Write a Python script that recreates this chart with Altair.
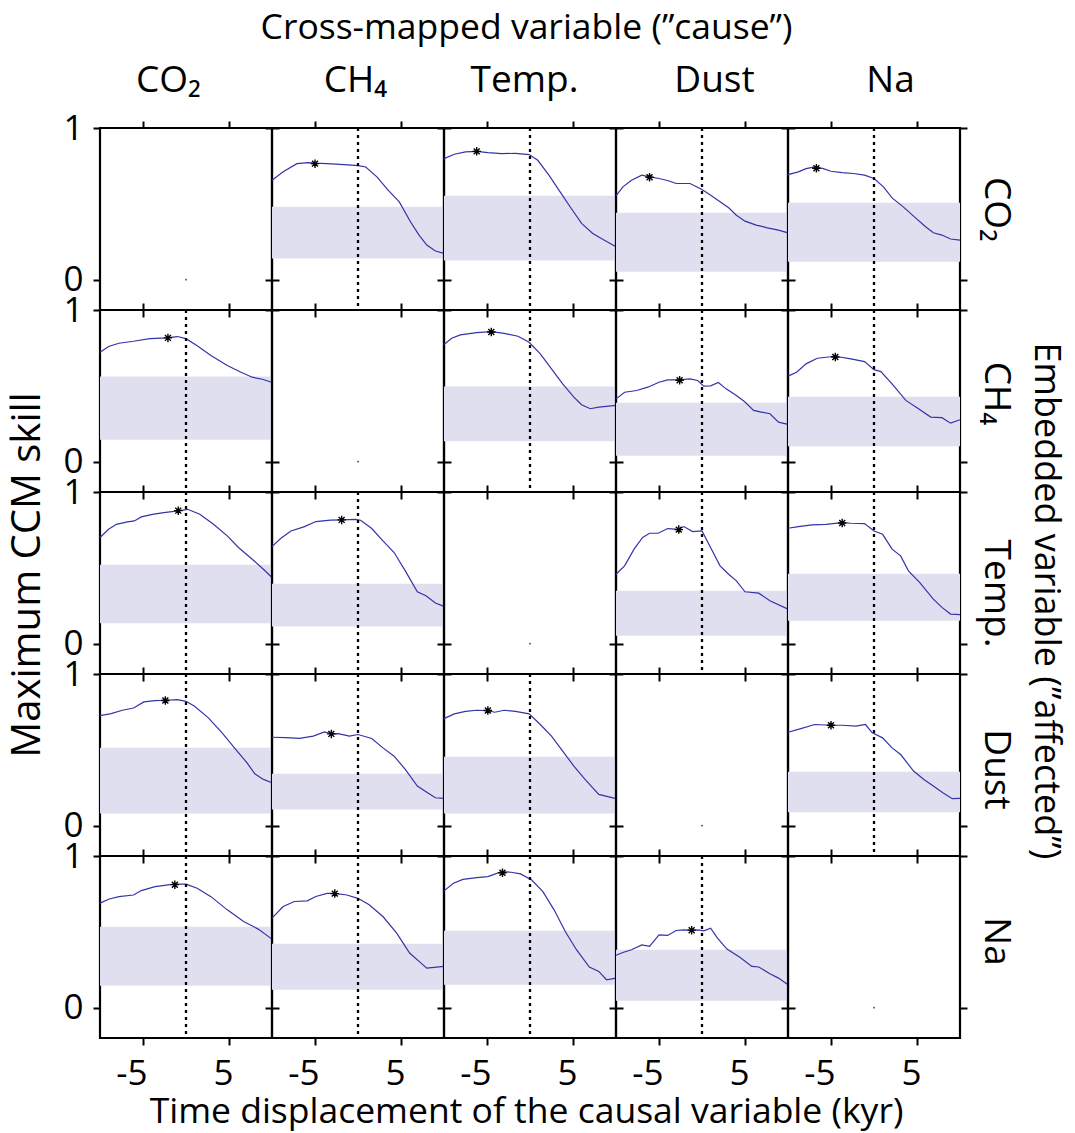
import altair as alt
import pandas as pd

FONT = "Open Sans"
LINE_COLOR = "#3434a8"
BAND_COLOR = "#e0dff0"
ASTERISK = "M0,-1L0,1M-1,0L1,0M-0.7,-0.7L0.7,0.7M-0.7,0.7L0.7,-0.7"

VARS = ["CO2", "CH4", "Temp", "Dust", "Na"]
LABELS = ["CO₂", "CH₄", "Temp.", "Dust", "Na"]

X_DOMAIN = [-10, 10]
Y_DOMAIN = [-0.2, 1.0]
X_TICKS = [-5, 5]
Y_TICKS = [0, 1]
ZERO_LAG = [0]
DIAG_LAG = [0.0]
DIAG_SKILL = [0.0]

# ---- curves: <affected>_<cause>  (embedded variable row, cross-mapped column)
CO2_CH4_LAG = [-10, -8.7, -7.1, -5.8, -5.0, -3.6, -1.6, 0.0, 0.9, 2.2, 3.5, 4.8, 6.1, 7.1, 8.0, 9.0, 10]
CO2_CH4_SKILL = [0.656, 0.711, 0.765, 0.772, 0.768, 0.765, 0.759, 0.752, 0.743, 0.678, 0.590, 0.513, 0.382, 0.294, 0.228, 0.189, 0.173]
CO2_TEMP_LAG = [-10, -8.8, -7.5, -6.2, -4.9, -3.3, -1.7, -0.1, 0.9, 2.2, 3.5, 4.8, 6.0, 7.3, 8.6, 10]
CO2_TEMP_SKILL = [0.798, 0.827, 0.842, 0.846, 0.838, 0.831, 0.833, 0.825, 0.787, 0.689, 0.579, 0.469, 0.371, 0.305, 0.261, 0.217]
CO2_DUST_LAG = [-10, -9.2, -8.2, -7.0, -6.1, -5.0, -4.0, -3.0, -1.4, 0.0, 1.1, 2.1, 3.1, 4.0, 5.0, 6.3, 7.6, 8.9, 10]
CO2_DUST_SKILL = [0.553, 0.612, 0.656, 0.689, 0.678, 0.667, 0.654, 0.634, 0.634, 0.594, 0.553, 0.513, 0.474, 0.425, 0.386, 0.360, 0.342, 0.327, 0.309]
CO2_NA_LAG = [-10, -8.8, -7.9, -6.9, -5.9, -5.0, -3.7, -2.4, -1.1, 0.0, 1.1, 2.1, 3.4, 4.7, 6.0, 6.9, 7.9, 8.9, 10]
CO2_NA_SKILL = [0.693, 0.711, 0.732, 0.743, 0.732, 0.715, 0.706, 0.700, 0.689, 0.667, 0.612, 0.539, 0.480, 0.414, 0.349, 0.309, 0.294, 0.268, 0.261]

CH4_CO2_LAG = [-10, -9.0, -7.8, -6.1, -4.2, -2.3, -1.0, 0.0, 1.3, 2.9, 4.8, 6.4, 7.7, 9.0, 10]
CH4_CO2_SKILL = [0.721, 0.759, 0.781, 0.794, 0.811, 0.816, 0.825, 0.811, 0.765, 0.700, 0.634, 0.590, 0.557, 0.542, 0.522]
CH4_TEMP_LAG = [-10, -9.1, -8.1, -6.2, -4.5, -3.0, -1.4, -0.1, 1.2, 2.5, 3.8, 5.1, 6.0, 7.0, 8.0, 10]
CH4_TEMP_SKILL = [0.772, 0.814, 0.836, 0.851, 0.857, 0.846, 0.827, 0.787, 0.711, 0.612, 0.513, 0.425, 0.375, 0.349, 0.360, 0.371]
CH4_DUST_LAG = [-10, -9.0, -7.6, -6.3, -5.0, -4.0, -2.6, -1.4, -0.5, 0.2, 1.0, 1.9, 2.8, 4.0, 5.0, 6.0, 6.9, 7.9, 8.9, 10]
CH4_DUST_SKILL = [0.414, 0.458, 0.469, 0.491, 0.524, 0.539, 0.539, 0.546, 0.535, 0.498, 0.500, 0.522, 0.480, 0.436, 0.393, 0.338, 0.327, 0.316, 0.261, 0.246]
CH4_NA_LAG = [-10, -9.0, -7.9, -6.6, -4.5, -2.7, -1.1, 0.0, 0.8, 2.1, 3.7, 5.0, 6.6, 7.9, 8.9, 10]
CH4_NA_SKILL = [0.564, 0.590, 0.645, 0.682, 0.695, 0.678, 0.660, 0.607, 0.594, 0.513, 0.404, 0.355, 0.294, 0.290, 0.254, 0.276]

TEMP_CO2_LAG = [-10, -9.0, -8.1, -6.8, -6.0, -5.2, -3.9, -2.6, -0.9, 0.2, 1.6, 3.2, 4.8, 6.1, 7.7, 9.0, 10]
TEMP_CO2_SKILL = [0.700, 0.754, 0.787, 0.803, 0.809, 0.836, 0.853, 0.864, 0.875, 0.886, 0.853, 0.787, 0.711, 0.634, 0.557, 0.491, 0.436]
TEMP_CH4_LAG = [-10, -9.0, -7.8, -6.3, -4.9, -3.2, -1.8, -0.3, 0.3, 1.6, 2.9, 4.2, 5.5, 6.9, 7.9, 9.0, 10]
TEMP_CH4_SKILL = [0.640, 0.693, 0.743, 0.770, 0.805, 0.814, 0.816, 0.820, 0.814, 0.759, 0.678, 0.601, 0.480, 0.342, 0.316, 0.268, 0.246]
TEMP_DUST_LAG = [-10, -9.0, -7.9, -6.9, -6.1, -5.1, -4.0, -2.7, -2.1, -1.1, 0.0, 1.1, 2.1, 3.1, 4.0, 5.0, 6.6, 7.9, 10]
TEMP_DUST_SKILL = [0.458, 0.513, 0.623, 0.700, 0.728, 0.728, 0.759, 0.754, 0.772, 0.739, 0.743, 0.623, 0.513, 0.458, 0.414, 0.342, 0.333, 0.283, 0.228]
TEMP_NA_LAG = [-10, -8.8, -7.2, -5.6, -3.7, -2.7, -1.1, 0.0, 1.0, 2.1, 3.1, 4.0, 5.3, 6.9, 7.9, 8.9, 10]
TEMP_NA_SKILL = [0.761, 0.772, 0.783, 0.787, 0.798, 0.794, 0.792, 0.743, 0.721, 0.623, 0.579, 0.480, 0.404, 0.294, 0.239, 0.195, 0.191]

DUST_CO2_LAG = [-10, -8.7, -7.4, -6.1, -4.9, -3.6, -2.4, -1.0, 0.0, 1.0, 2.6, 4.2, 5.8, 7.1, 8.0, 9.0, 10]
DUST_CO2_SKILL = [0.726, 0.739, 0.761, 0.776, 0.816, 0.825, 0.827, 0.831, 0.820, 0.787, 0.711, 0.612, 0.502, 0.414, 0.342, 0.305, 0.283]
DUST_CH4_LAG = [-10, -8.4, -6.8, -5.2, -3.9, -3.1, -2.3, -1.0, 0.0, 1.6, 2.9, 4.2, 5.5, 6.9, 8.0, 9.0, 10]
DUST_CH4_SKILL = [0.583, 0.581, 0.575, 0.590, 0.618, 0.605, 0.607, 0.590, 0.601, 0.575, 0.513, 0.458, 0.371, 0.261, 0.221, 0.184, 0.180]
DUST_TEMP_LAG = [-10, -8.8, -7.5, -6.2, -4.9, -4.1, -3.0, -1.7, -0.1, 1.2, 2.5, 3.8, 5.1, 6.4, 8.0, 10]
DUST_TEMP_SKILL = [0.706, 0.737, 0.754, 0.761, 0.759, 0.748, 0.761, 0.754, 0.737, 0.667, 0.590, 0.491, 0.393, 0.305, 0.206, 0.178]
DUST_NA_LAG = [-10, -8.5, -6.9, -5.0, -3.7, -2.1, -1.0, -0.2, 1.0, 2.1, 3.1, 4.6, 5.8, 6.9, 8.0, 9.1, 10]
DUST_NA_SKILL = [0.616, 0.640, 0.667, 0.662, 0.662, 0.656, 0.667, 0.612, 0.579, 0.513, 0.469, 0.360, 0.305, 0.261, 0.217, 0.178, 0.180]

NA_CO2_LAG = [-10, -9.0, -7.8, -6.1, -5.2, -3.6, -1.4, 0.0, 1.3, 2.9, 4.8, 6.7, 8.4, 10]
NA_CO2_SKILL = [0.689, 0.715, 0.732, 0.743, 0.772, 0.798, 0.814, 0.814, 0.787, 0.732, 0.645, 0.568, 0.518, 0.452]
NA_CH4_LAG = [-10, -8.7, -7.4, -5.9, -4.9, -3.6, -2.7, -1.3, 0.0, 1.3, 2.9, 4.5, 6.0, 7.1, 8.0, 10]
NA_CH4_SKILL = [0.590, 0.667, 0.700, 0.704, 0.733, 0.754, 0.754, 0.743, 0.721, 0.678, 0.601, 0.491, 0.360, 0.305, 0.261, 0.272]
NA_TEMP_LAG = [-10, -8.9, -7.8, -6.2, -4.9, -3.3, -2.2, -1.1, 0.2, 1.5, 2.8, 4.1, 5.4, 6.9, 8.0, 8.9, 10]
NA_TEMP_SKILL = [0.770, 0.820, 0.846, 0.857, 0.864, 0.897, 0.893, 0.882, 0.842, 0.765, 0.645, 0.502, 0.382, 0.268, 0.239, 0.184, 0.195]
NA_DUST_LAG = [-10, -9.2, -8.2, -7.0, -6.1, -5.0, -4.0, -3.0, -2.1, -1.2, -0.5, 0.2, 1.0, 1.8, 2.9, 4.4, 5.8, 6.6, 7.9, 8.9, 10]
NA_DUST_SKILL = [0.346, 0.364, 0.382, 0.414, 0.404, 0.480, 0.476, 0.509, 0.513, 0.509, 0.513, 0.507, 0.524, 0.458, 0.386, 0.333, 0.272, 0.268, 0.224, 0.195, 0.151]

# significance band (rows: embedded variable, cols: cross-mapped variable)
BAND_LO = [
    [None, 0.140, 0.127, 0.053, 0.118],
    [0.145, None, 0.134, 0.039, 0.101],
    [0.134, 0.114, None, 0.053, 0.151],
    [0.081, 0.107, 0.081, None, 0.088],
    [0.145, 0.118, 0.151, 0.046, None],
]
BAND_HI = [
    [None, 0.480, 0.553, 0.441, 0.507],
    [0.561, None, 0.496, 0.388, 0.428],
    [0.520, 0.395, None, 0.349, 0.461],
    [0.513, 0.342, 0.454, None, 0.355],
    [0.533, 0.421, 0.507, 0.382, None],
]
# maximum marker
STAR_LAG = [
    [None, -5.0, -6.2, -6.1, -6.7],
    [-2.1, None, -4.5, -2.6, -4.5],
    [-0.9, -1.9, None, -2.7, -3.7],
    [-2.4, -3.1, -4.9, None, -5.0],
    [-1.3, -2.7, -3.2, -1.2, None],
]
STAR_SKILL = [
    [None, 0.765, 0.846, 0.675, 0.735],
    [0.816, None, 0.855, 0.537, 0.690],
    [0.877, 0.816, None, 0.752, 0.796],
    [0.825, 0.605, 0.759, None, 0.662],
    [0.811, 0.752, 0.890, 0.511, None],
]

CURVES = {
    ("CO2", "CH4"): (CO2_CH4_LAG, CO2_CH4_SKILL),
    ("CO2", "Temp"): (CO2_TEMP_LAG, CO2_TEMP_SKILL),
    ("CO2", "Dust"): (CO2_DUST_LAG, CO2_DUST_SKILL),
    ("CO2", "Na"): (CO2_NA_LAG, CO2_NA_SKILL),
    ("CH4", "CO2"): (CH4_CO2_LAG, CH4_CO2_SKILL),
    ("CH4", "Temp"): (CH4_TEMP_LAG, CH4_TEMP_SKILL),
    ("CH4", "Dust"): (CH4_DUST_LAG, CH4_DUST_SKILL),
    ("CH4", "Na"): (CH4_NA_LAG, CH4_NA_SKILL),
    ("Temp", "CO2"): (TEMP_CO2_LAG, TEMP_CO2_SKILL),
    ("Temp", "CH4"): (TEMP_CH4_LAG, TEMP_CH4_SKILL),
    ("Temp", "Dust"): (TEMP_DUST_LAG, TEMP_DUST_SKILL),
    ("Temp", "Na"): (TEMP_NA_LAG, TEMP_NA_SKILL),
    ("Dust", "CO2"): (DUST_CO2_LAG, DUST_CO2_SKILL),
    ("Dust", "CH4"): (DUST_CH4_LAG, DUST_CH4_SKILL),
    ("Dust", "Temp"): (DUST_TEMP_LAG, DUST_TEMP_SKILL),
    ("Dust", "Na"): (DUST_NA_LAG, DUST_NA_SKILL),
    ("Na", "CO2"): (NA_CO2_LAG, NA_CO2_SKILL),
    ("Na", "CH4"): (NA_CH4_LAG, NA_CH4_SKILL),
    ("Na", "Temp"): (NA_TEMP_LAG, NA_TEMP_SKILL),
    ("Na", "Dust"): (NA_DUST_LAG, NA_DUST_SKILL),
}

curve_rows, band_rows, star_rows, zero_rows, diag_rows = [], [], [], [], []
for (aff, cau), (lags, skills) in CURVES.items():
    for lg, sk in zip(lags, skills):
        curve_rows.append({"affected": aff, "cause": cau, "lag": lg, "skill": sk})
for i, aff in enumerate(VARS):
    for j, cau in enumerate(VARS):
        if i == j:
            for lg, sk in zip(DIAG_LAG, DIAG_SKILL):
                diag_rows.append({"affected": aff, "cause": cau, "lag": lg, "skill": sk})
            continue
        band_rows.append({"affected": aff, "cause": cau, "lo": BAND_LO[i][j], "hi": BAND_HI[i][j]})
        star_rows.append({"affected": aff, "cause": cau, "lag": STAR_LAG[i][j], "skill": STAR_SKILL[i][j]})
        for z in ZERO_LAG:
            zero_rows.append({"affected": aff, "cause": cau, "lag": z})

curve_df = pd.DataFrame(curve_rows)
band_df = pd.DataFrame(band_rows)
star_df = pd.DataFrame(star_rows)
zero_df = pd.DataFrame(zero_rows)
diag_df = pd.DataFrame(diag_rows)

# layout (pixels)
W, H = 172, 182
HEADER_SHIFT = [-18, -3, -6, 12, 16]     # column-header nudges, as in the original figure
ROWLABEL_SHIFT = [-10, -8, 10, 4, -6]    # row-label nudges
TICK_FS = 35
HEAD_FS = 37


def cell(i, j):
    aff, cau = VARS[i], VARS[j]
    filt = f"datum.affected == '{aff}' && datum.cause == '{cau}'"
    xs = alt.Scale(domain=X_DOMAIN, nice=False, zero=False)
    ys = alt.Scale(domain=Y_DOMAIN, nice=False, zero=False)
    xb = alt.Axis(orient="bottom", values=X_TICKS, labels=(i == 4), title=None,
                  labelExpr="'' + datum.value", labelAlign="right", labelOffset=4,
                  labelPadding=11)
    yl = alt.Axis(orient="left", values=Y_TICKS, labels=(j == 0), title=None,
                  labelExpr="'' + datum.value", labelPadding=10)
    X = alt.X("lag:Q", scale=xs, axis=xb)
    Y = alt.Y("skill:Q", scale=ys, axis=yl)

    band = alt.Chart(band_df).transform_filter(filt).mark_rect(color=BAND_COLOR).encode(
        y=alt.Y("lo:Q", scale=ys, axis=yl), y2="hi:Q")
    line = alt.Chart(curve_df).transform_filter(filt).mark_line(
        color=LINE_COLOR, strokeWidth=1.2).encode(x=X, y=Y)
    rule = alt.Chart(zero_df).transform_filter(filt).mark_rule(
        color="black", strokeWidth=2.3, strokeDash=[3, 4]).encode(x=X)
    star = alt.Chart(star_df).transform_filter(filt).mark_point(
        shape=ASTERISK, size=72, color="black", strokeWidth=1.4, filled=False, opacity=1).encode(x=X, y=Y)
    dot = alt.Chart(diag_df).transform_filter(filt).mark_point(
        shape="circle", filled=True, size=3, color=LINE_COLOR, opacity=1).encode(x=X, y=Y)
    inner = alt.layer(band, line, rule, star, dot)

    top_kw = dict(orient="top", values=X_TICKS, labels=False, title=None)
    if i == 0:
        top_kw.update(title=LABELS[j], titlePadding=21, titleX=W / 2 + HEADER_SHIFT[j],
                      titleFontSize=HEAD_FS)
    right_kw = dict(orient="right", values=Y_TICKS, labels=False, title=None)
    if j == 4:
        right_kw.update(title=LABELS[i], titlePadding=8, titleY=H / 2 + ROWLABEL_SHIFT[i],
                        titleFontSize=HEAD_FS)
    frame = alt.Chart(diag_df).mark_point(opacity=0).encode(
        x=alt.X("lag:Q", scale=xs, axis=alt.Axis(**top_kw)),
        y=alt.Y("skill:Q", scale=ys, axis=alt.Axis(**right_kw)))
    return alt.layer(inner, frame).resolve_scale(x="independent", y="independent").properties(
        width=W, height=H)


cells = [cell(i, j) for i in range(5) for j in range(5)]
grid = alt.concat(*cells, columns=5, spacing=0, bounds="flush",
                  title=alt.TitleParams("Cross-mapped variable (\u201dcause\u201d)", orient="top",
                                        anchor="middle", offset=13, fontSize=35.5, dx=-12))
g2 = alt.hconcat(grid, title=alt.TitleParams("Time displacement of the causal variable (kyr)",
                                             orient="bottom", anchor="middle", offset=3,
                                             fontSize=35.5, dx=-12))
g3 = alt.hconcat(g2, title=alt.TitleParams("Maximum CCM skill", orient="left",
                                           anchor="middle", offset=14, fontSize=40, dx=-4))
g4 = alt.hconcat(g3, title=alt.TitleParams("Embedded variable (\u201daffected\u201d)", orient="right",
                                           anchor="middle", offset=12, fontSize=36, dx=30))

chart = g4.properties(
    padding={"left": 7, "top": 11, "right": 4, "bottom": 1},
    background="white",
).configure_view(
    stroke="black", strokeWidth=2.2
).configure_axis(
    domain=False, grid=False, ticks=True, tickColor="black", tickWidth=2, tickSize=7,
    labelFont=FONT, labelFontSize=TICK_FS, labelColor="black",
    titleFont=FONT, titleFontSize=HEAD_FS, titleFontWeight="normal", titleColor="black",
).configure_title(
    font=FONT, fontWeight="normal", color="black"
)

chart.save("out.html", embed_options={"renderer": "svg", "actions": False})
